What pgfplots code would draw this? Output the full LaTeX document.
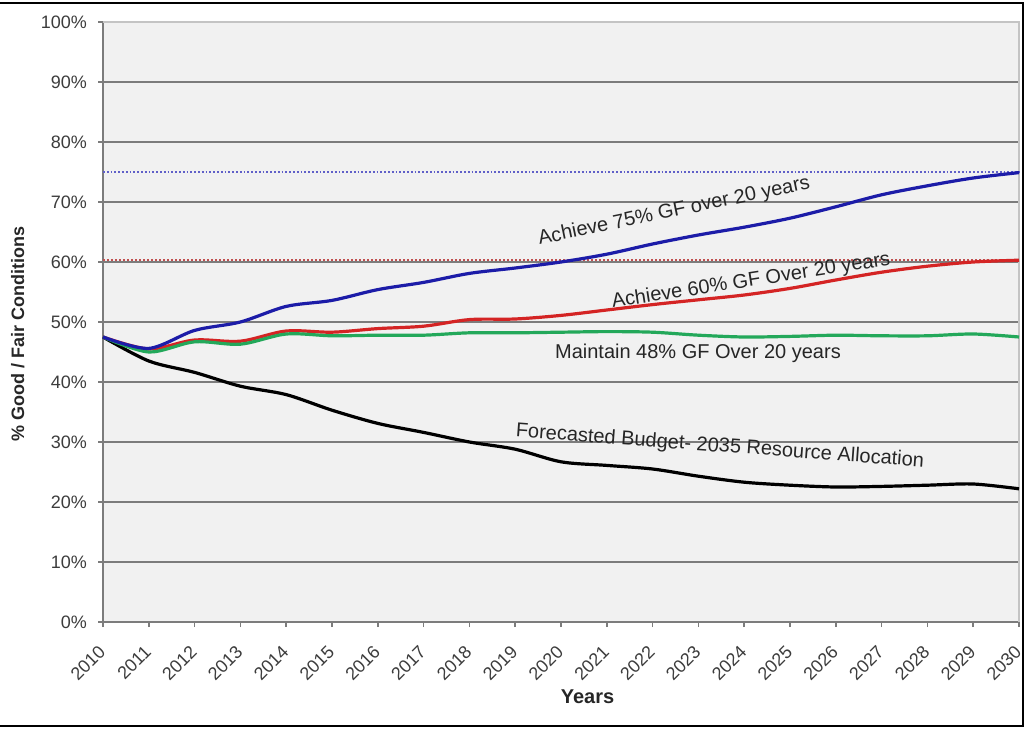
\documentclass[border=0pt]{standalone}
\usepackage{fontspec}
\setmainfont{Liberation Sans}
\usepackage{pgfplots}
\pgfplotsset{compat=1.18}
\definecolor{bgc}{HTML}{F1F1F1}
\definecolor{gridc}{HTML}{7C7C7C}
\definecolor{lborder}{HTML}{C4C4C4}
\definecolor{tickc}{HTML}{3C3C3C}
\definecolor{annc}{HTML}{262626}
\definecolor{cblue}{HTML}{1C1CA8}
\definecolor{cred}{HTML}{D42424}
\definecolor{cgreen}{HTML}{23A85A}
\definecolor{refblue}{HTML}{6060C8}
\definecolor{refred}{HTML}{C05050}
\begin{document}
\begin{tikzpicture}
\path[use as bounding box] (-51.5pt,-53pt) rectangle (461.5pt,311pt);
\begin{axis}[
  scale only axis, width=458pt, height=300pt,
  at={(0,0)}, anchor=south west,
  xmin=2010, xmax=2030, ymin=0, ymax=100,
  xtick={2010,2011,...,2030}, ytick={0,10,...,100},
  /pgf/number format/assume math mode=true,
  /pgf/number format/1000 sep={},
  yticklabel={\pgfmathprintnumber{\tick}\%},
  axis x line*=bottom, axis y line*=left,
  axis line style={gridc, line width=1pt},
  tick align=outside, major tick length=2.5pt,
  tick style={gridc, line width=0.8pt},
  axis background/.style={fill=bgc},
  ymajorgrids, major grid style={gridc, line width=0.9pt},
  tick label style={font=\fontsize{9}{10}\selectfont, text=tickc},
  xticklabel style={xshift=0pt, yshift=-10.5pt, rotate=45, anchor=east, inner sep=0.5pt},
  yticklabel style={xshift=-2pt},
  xlabel={\textbf{Years}},
  xlabel style={font=\fontsize{10}{12}\selectfont, text=annc, at={(axis description cs:0.529,-0.125)}, anchor=center},
  ylabel={\textbf{\% Good / Fair Conditions}},
  ylabel style={font=\fontsize{9}{11}\selectfont, text=annc, at={(axis description cs:-0.093,0.48)}, anchor=center, rotate=0},
  clip=false,
]
\draw[lborder, line width=1pt] (rel axis cs:0,1) -- (rel axis cs:1,1) -- (rel axis cs:1,0);
\addplot[refblue, line width=0.9pt, densely dotted] coordinates {(2010,75) (2030,75)};
\addplot[refred, line width=1pt, densely dotted] coordinates {(2010,60.25) (2030,60.25)};
% Forecasted budget
\addplot[black, line width=1.6pt, smooth, tension=0.5] coordinates {
(2010,47.5) (2011,43.5) (2012,41.6) (2013,39.3) (2014,37.9) (2015,35.3) (2016,33.1) (2017,31.6) (2018,30.0) (2019,28.8) (2020,26.7) (2021,26.1) (2022,25.5) (2023,24.3) (2024,23.3) (2025,22.8) (2026,22.5) (2027,22.6) (2028,22.8) (2029,23.0) (2030,22.2)};
% Achieve 60
\addplot[cred, line width=1.6pt, smooth, tension=0.5] coordinates {
(2010,47.5) (2011,45.5) (2012,47.0) (2013,46.8) (2014,48.5) (2015,48.3) (2016,48.9) (2017,49.3) (2018,50.4) (2019,50.5) (2020,51.1) (2021,52.0) (2022,52.9) (2023,53.7) (2024,54.5) (2025,55.6) (2026,57.0) (2027,58.3) (2028,59.3) (2029,60.0) (2030,60.3)};
% Maintain 48
\addplot[cgreen, line width=1.6pt, smooth, tension=0.5] coordinates {
(2010,47.5) (2011,45.0) (2012,46.7) (2013,46.3) (2014,48.0) (2015,47.7) (2016,47.8) (2017,47.8) (2018,48.2) (2019,48.2) (2020,48.3) (2021,48.4) (2022,48.3) (2023,47.8) (2024,47.5) (2025,47.6) (2026,47.8) (2027,47.7) (2028,47.7) (2029,48.0) (2030,47.5)};
% Achieve 75
\addplot[cblue, line width=1.6pt, smooth, tension=0.5] coordinates {
(2010,47.5) (2011,45.6) (2012,48.6) (2013,50.0) (2014,52.6) (2015,53.6) (2016,55.4) (2017,56.6) (2018,58.1) (2019,59.0) (2020,60.0) (2021,61.3) (2022,63.0) (2023,64.5) (2024,65.8) (2025,67.3) (2026,69.2) (2027,71.2) (2028,72.7) (2029,74.0) (2030,74.9)};
\node[rotate=11.7, text=annc, font=\fontsize{10}{12}\selectfont] at (axis cs:2022.47,68.4) {Achieve 75\% GF over 20 years};
\node[rotate=8.8, text=annc, font=\fontsize{10}{12}\selectfont] at (axis cs:2024.15,56.8) {Achieve 60\% GF Over 20 years};
\node[text=annc, font=\fontsize{10}{12}\selectfont] at (axis cs:2022.99,44.7) {Maintain 48\% GF Over 20 years};
\node[rotate=-4.2, text=annc, font=\fontsize{10}{12}\selectfont] at (axis cs:2023.47,29.2) {Forecasted Budget- 2035 Resource Allocation};
\end{axis}
\draw[black, line width=1pt] (-51.5pt,309.5pt) -- (460pt,309.5pt) -- (460pt,-52pt) -- (-51.5pt,-52pt);
\end{tikzpicture}
\end{document}
